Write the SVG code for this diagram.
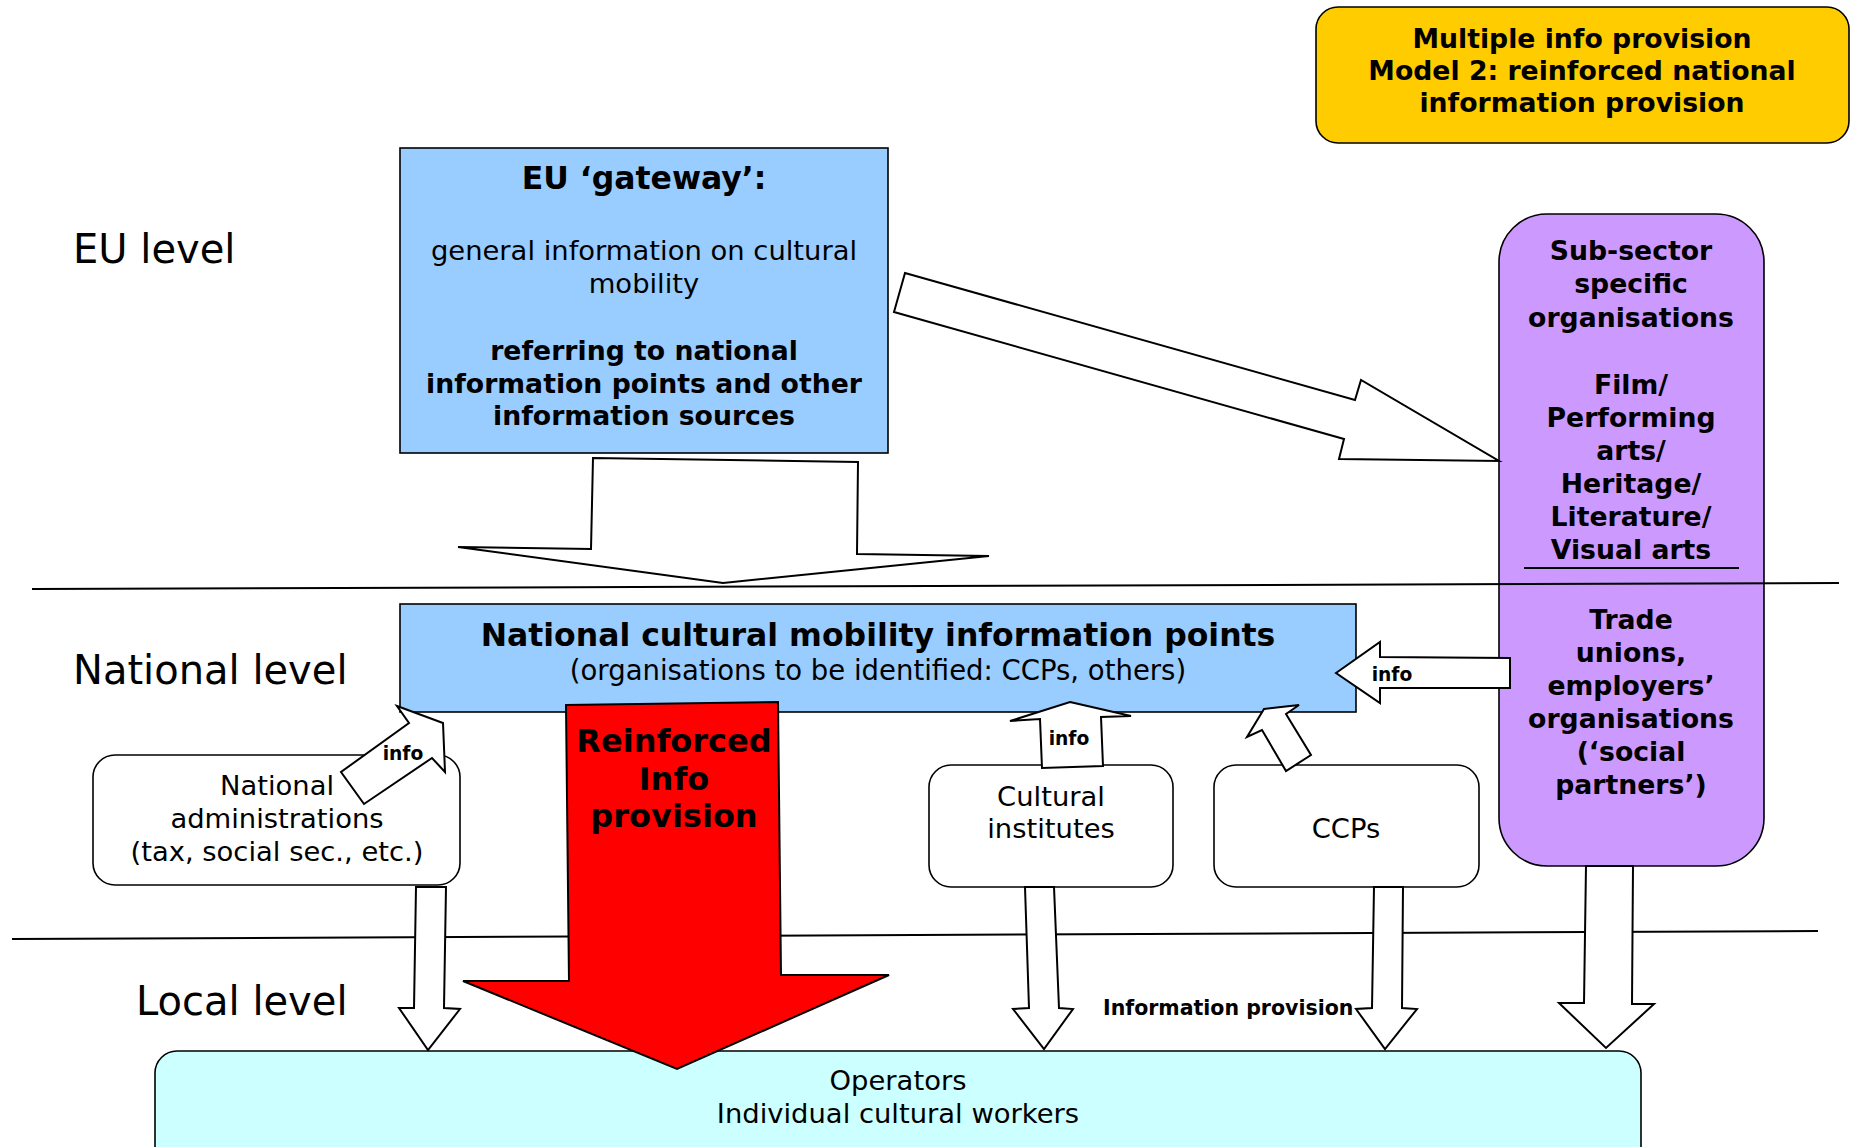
<svg xmlns="http://www.w3.org/2000/svg" width="1851" height="1147" viewBox="0 0 1851 1147">
<style>
text{font-family:"DejaVu Sans","Verdana",sans-serif;fill:#000;text-anchor:middle}
.b{font-weight:bold}
.lvl{font-size:40px;text-anchor:start}
.box{stroke:#000;stroke-width:1.6}
.arr{fill:#fff;stroke:#000;stroke-width:2;stroke-linejoin:miter}
.line{stroke:#000;stroke-width:2;fill:none}
.t27{font-size:27.4px}
.tb27{font-size:26.7px}
.t24{font-size:26.7px}
.t32{font-size:32px}
.t19{font-size:18.7px}
</style>
<rect width="1851" height="1147" fill="#fff"/>

<g id="label-eu"><text class="lvl" x="73" y="263">EU level</text></g>
<g id="label-national"><text class="lvl" x="73" y="684">National level</text></g>
<g id="label-local"><text class="lvl" x="136" y="1015">Local level</text></g>

<g id="title">
<rect class="box" x="1316" y="7" width="533" height="136" rx="22" fill="#FFCC00"/>
<text class="b tb27" x="1582" y="48">Multiple info provision</text>
<text class="b tb27" x="1582" y="80">Model 2: reinforced national</text>
<text class="b tb27" x="1582" y="112">information provision</text>
</g>

<g id="eu-gateway">
<rect class="box" x="400" y="148" width="488" height="305" fill="#99CCFF"/>
<text class="b" style="font-size:31.5px" x="644" y="189">EU ‘gateway’:</text>
<text class="t27" x="644" y="260">general information on cultural</text>
<text class="t27" x="644" y="293">mobility</text>
<text class="b tb27" x="644" y="360">referring to national</text>
<text class="b tb27" x="644" y="393">information points and other</text>
<text class="b tb27" x="644" y="425">information sources</text>
</g>

<g id="sub-sector">
<rect class="box" x="1499" y="214" width="265" height="652" rx="48" fill="#CC99FF"/>
<text class="b t24" x="1631" y="260">Sub-sector</text>
<text class="b t24" x="1631" y="293">specific</text>
<text class="b t24" x="1631" y="327">organisations</text>
<text class="b t24" x="1631" y="394">Film/</text>
<text class="b t24" x="1631" y="427">Performing</text>
<text class="b t24" x="1631" y="460">arts/</text>
<text class="b t24" x="1631" y="493">Heritage/</text>
<text class="b t24" x="1631" y="526">Literature/</text>
<text class="b t24" x="1631" y="559">Visual arts</text>
<line x1="1524" y1="568" x2="1739" y2="568" stroke="#000" stroke-width="2"/>
<text class="b t24" x="1631" y="629">Trade</text>
<text class="b t24" x="1631" y="662">unions,</text>
<text class="b t24" x="1631" y="695">employers’</text>
<text class="b t24" x="1631" y="728">organisations</text>
<text class="b t24" x="1631" y="761">(‘social</text>
<text class="b t24" x="1631" y="794">partners’)</text>
</g>

<g id="national-points">
<rect class="box" x="400" y="604" width="956" height="108" fill="#99CCFF"/>
<text class="b" style="font-size:31.5px" x="878" y="646">National cultural mobility information points</text>
<text style="font-size:27.5px" x="878" y="680">(organisations to be identified: CCPs, others)</text>
</g>

<g id="national-admin">
<rect class="box" x="93" y="755" width="367" height="130" rx="22" fill="#fff"/>
<text class="t27" x="277" y="795">National</text>
<text class="t27" x="277" y="828">administrations</text>
<text class="t27" x="277" y="861">(tax, social sec., etc.)</text>
</g>

<g id="cultural-institutes">
<rect class="box" x="929" y="765" width="244" height="122" rx="22" fill="#fff"/>
<text class="t27" x="1051" y="806">Cultural</text>
<text class="t27" x="1051" y="838">institutes</text>
</g>

<g id="ccps">
<rect class="box" x="1214" y="765" width="265" height="122" rx="22" fill="#fff"/>
<text class="t27" x="1346" y="838">CCPs</text>
</g>

<g id="operators">
<rect class="box" x="155" y="1051" width="1486" height="130" rx="22" fill="#CCFFFF"/>
<text class="t27" x="898" y="1090">Operators</text>
<text class="t27" x="898" y="1123">Individual cultural workers</text>
</g>

<g id="level-lines">
<line class="line" x1="32" y1="589" x2="1839" y2="583"/>
<line class="line" x1="12" y1="939" x2="1818" y2="931"/>
</g>

<g id="connectors">
<polygon class="arr" points="593,458 858,462 857,554 989,556 723,583 458,547 591,549"/>
<polygon class="arr" points="905,273 1355,400 1361,380 1499,461 1339,459 1344,439 894,312"/>
<polygon class="arr" points="397,706 443,723 445,772 432,758 364,804 341,772 409,723"/>
<text class="b t19" x="403" y="760">info</text>
<polygon points="566,705 778,702 781,975 889,975 677,1069 463,981 569,981" fill="#FF0000" stroke="#000" stroke-width="2"/>
<text class="b t32" x="674" y="752">Reinforced</text>
<text class="b t32" x="674" y="790">Info</text>
<text class="b t32" x="674" y="827">provision</text>
<polygon class="arr" points="1070,702 1131,716 1101,717 1103,766 1042,768 1040,719 1010,721"/>
<text class="b t19" x="1069" y="745">info</text>
<polygon class="arr" points="1264,709 1299,705 1286,714 1311,755 1286,771 1262,730 1247,737"/>
<polygon class="arr" points="1336,673 1380,642 1380,657 1510,658 1510,688 1380,688 1380,703"/>
<text class="b t19" x="1392" y="681">info</text>
<polygon class="arr" points="416,887 446,887 444,1008 460,1009 428,1050 399,1008 414,1008"/>
<polygon class="arr" points="1025,887 1054,887 1059,1008 1073,1009 1044,1049 1013,1009 1029,1008"/>
<polygon class="arr" points="1374,887 1403,887 1402,1008 1417,1009 1385,1049 1356,1009 1372,1008"/>
<polygon class="arr" points="1586,866 1633,866 1632,1004 1654,1004 1606,1048 1559,1003 1584,1003"/>
<text class="b" style="font-size:20.5px;text-anchor:start" x="1103" y="1015">Information provision</text>
</g>
</svg>
